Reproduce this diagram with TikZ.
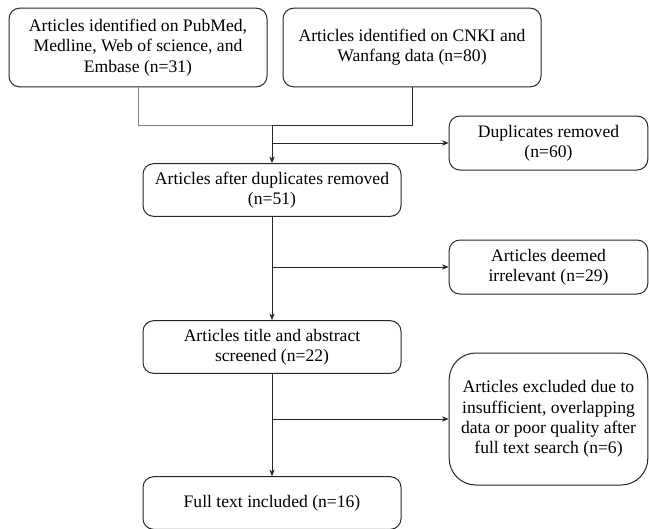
\documentclass[tikz,border=0pt]{standalone}
\usepackage{fontspec}
\setmainfont{Liberation Serif}
\usetikzlibrary{arrows.meta}

\tikzset{
	flowbox/.style={draw=black!85, line width=0.75pt, rounded corners=8pt, align=center,
		font=\fontsize{13.2}{15.3}\selectfont, inner sep=0pt},
	mainbox/.style={flowbox, minimum width=193.5pt, minimum height=39.5pt},
	sidebox/.style={flowbox, minimum width=149pt, minimum height=40.5pt},
	link/.style={draw=black!85, line width=0.75pt},
}

\begin{document}
\begin{tikzpicture}[x=0.75pt, y=-0.75pt, >={Stealth[length=5pt,width=4pt]}]
	\useasboundingbox (0,0) rectangle (649,528);
	
	% Sources
	\node[flowbox, minimum width=193.5pt, minimum height=59pt] (pubmed) at (138,47.5)
	{Articles identified on PubMed,\\ Medline, Web of science, and\\ Embase (n=31)};
	\node[flowbox, minimum width=193.5pt, minimum height=59pt] (cnki) at (412,47.5)
	{Articles identified on CNKI and\\ Wanfang data (n=80)};
	
	% Main column
	\node[mainbox] (after) at (272,190) {Articles after duplicates removed\\ (n=51)};
	\node[mainbox] (screen) at (272,347) {Articles title and abstract\\ screened (n=22)};
	\node[mainbox] (full) at (272,503) {Full text included (n=16)};
	
	% Exclusions
	\node[sidebox] (dup) at (548.5,143) {Duplicates removed\\ (n=60)};
	\node[sidebox] (irrel) at (548.5,267) {Articles deemed\\ irrelevant (n=29)};
	\node[flowbox, rounded corners=20pt, minimum width=149pt, minimum height=99pt] (excl) at (548.5,419)
	{Articles excluded due to\\ insufficient, overlapping\\ data or poor quality after\\ full text search (n=6)};
	
	\coordinate (merge) at (272,125);
	\coordinate (tap1) at (272,143);
	\coordinate (tap2) at (272,267);
	\coordinate (tap3) at (272,419);
	
	% Merging the two searches
	\draw[link, draw=black!50] (pubmed.south) |- (merge);
	\draw[link] (cnki.south) |- (merge);
	\draw[link, ->] (merge) -- (after.north);
	\draw[link, ->] (tap1) -- (dup.west);
	
	% Screening steps
	\draw[link, ->] (after.south) -- (screen.north);
	\draw[link, ->] (tap2) -- (irrel.west);
	\draw[link, ->] (screen.south) -- (full.north);
	\draw[link, ->] (tap3) -- (excl.west);
\end{tikzpicture}
\end{document}
